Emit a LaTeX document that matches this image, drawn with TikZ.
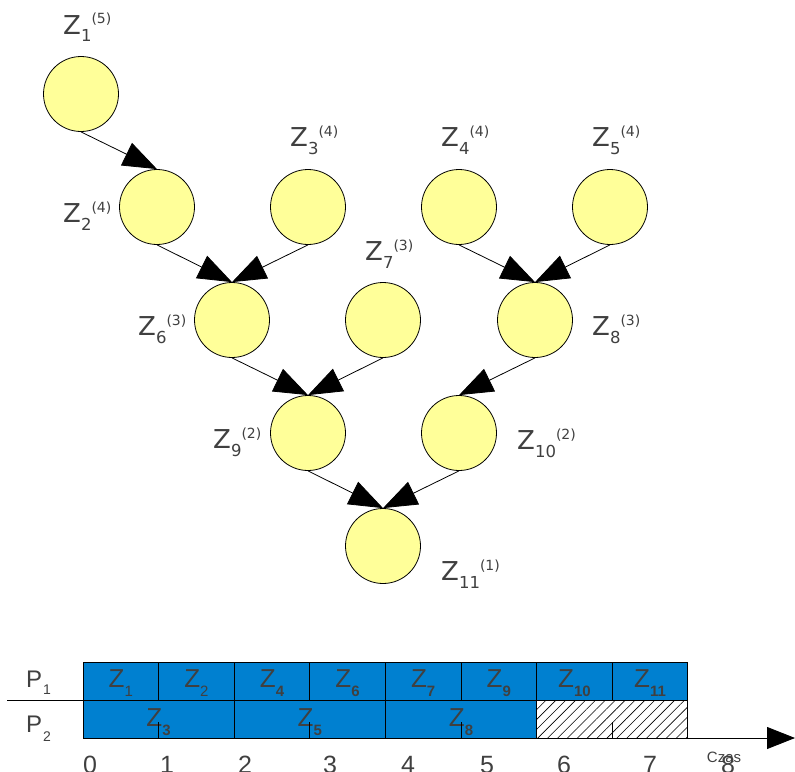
\documentclass[tikz,border=0pt]{standalone}
\usepackage{fontspec}
\setmainfont{DejaVu Sans}
\newfontfamily\ganttfont{Liberation Sans}
\usepackage{tikz}
\usetikzlibrary{arrows.meta, patterns.meta}
\usepackage{xcolor}
\definecolor{nodeyellow}{RGB}{255, 255, 153}
\definecolor{barblue}{RGB}{0, 128, 208}
\definecolor{labelgray}{RGB}{64, 64, 64}

% task label: Z, subscript, then the level in brackets
\newcommand{\zlab}[2]{Z\raisebox{-8pt}{\fontsize{16.5}{16.5}\selectfont #1}\raisebox{10pt}{\fontsize{14}{14}\selectfont (#2)}}
% task label inside a bar of the chart
\newcommand{\zbar}[2]{Z\raisebox{-9pt}{\fontsize{15}{15}\selectfont #1#2}}

\begin{document}
\begin{tikzpicture}[x=1pt, y=-1pt, >=Stealth,
  task/.style={circle, draw, line width=0.8pt, fill=nodeyellow, minimum size=75pt, inner sep=0pt},
  dep/.style={-{Triangle[length=34pt, width=25pt]}, line width=0.8pt},
  zlabel/.style={anchor=base west, inner sep=0pt, text=labelgray, font=\fontsize{26}{26}\selectfont},
  barlabel/.style={anchor=base, inner sep=0pt, text=labelgray, font=\ganttfont\fontsize{26}{26}\selectfont},
  ticklabel/.style={anchor=base, inner sep=0pt, text=labelgray, font=\ganttfont\fontsize{25}{25}\selectfont},
  cell/.style={draw, line width=0.8pt, fill=barblue}]

  \useasboundingbox (0, 0) rectangle (795, 771);

  % --- Task graph ---
  \node[task] (z1) at (81, 94) {};
  \node[task] (z2) at (157, 207) {};
  \node[task] (z3) at (308, 207) {};
  \node[task] (z4) at (459, 207) {};
  \node[task] (z5) at (610, 207) {};
  \node[task] (z6) at (232, 320) {};
  \node[task] (z7) at (383, 320) {};
  \node[task] (z8) at (535, 320) {};
  \node[task] (z9) at (308, 433) {};
  \node[task] (z10) at (459, 433) {};
  \node[task] (z11) at (383, 546) {};

  % Labels
  \node[zlabel] (l1) at (63, 34) {\zlab{1}{5}};
  \node[zlabel] (l2) at (63, 222) {\zlab{2}{4}};
  \node[zlabel] (l3) at (290, 146) {\zlab{3}{4}};
  \node[zlabel] (l4) at (441, 146) {\zlab{4}{4}};
  \node[zlabel] (l5) at (592, 146) {\zlab{5}{4}};
  \node[zlabel] (l6) at (138, 335) {\zlab{6}{3}};
  \node[zlabel] (l7) at (365, 260) {\zlab{7}{3}};
  \node[zlabel] (l8) at (592, 335) {\zlab{8}{3}};
  \node[zlabel] (l9) at (213, 448) {\zlab{9}{2}};
  \node[zlabel] (l10) at (517, 449) {\zlab{10}{2}};
  \node[zlabel] (l11) at (441, 580) {\zlab{11}{1}};

  % Dependencies
  \draw[dep] (z1.south) -- (z2.north);
  \draw[dep] (z2.south) -- (z6.north);
  \draw[dep] (z3.south) -- (z6.north);
  \draw[dep] (z4.south) -- (z8.north);
  \draw[dep] (z5.south) -- (z8.north);
  \draw[dep] (z6.south) -- (z9.north);
  \draw[dep] (z7.south) -- (z9.north);
  \draw[dep] (z8.south) -- (z10.north);
  \draw[dep] (z9.south) -- (z11.north);
  \draw[dep] (z10.south) -- (z11.north);

  % --- Schedule on two processors ---
  % P1 row
  \foreach \s/\w [count=\i from 0] in {1/\mdseries, 2/\mdseries, 4/\bfseries, 6/\bfseries,
      7/\bfseries, 9/\bfseries, 10/\bfseries, 11/\bfseries} {
    \draw[cell] ({83+75.6*\i}, 662) rectangle ++(75.6, 38);
    \node[barlabel] (b\s) at ({83+75.6*(\i+0.5)}, 687) {\zbar{\w}{\s}};
  }

  % P2 row
  \foreach \s [count=\i from 0] in {3, 5, 8} {
    \draw[cell] ({83+151.2*\i}, 700) rectangle ++(151.2, 38);
    \node[barlabel] (b\s) at ({83+151.2*(\i+0.5)}, 726) {\zbar{\bfseries}{\s}};
  }

  % idle time of P2
  \draw[line width=0.8pt, fill=white] (536.6, 700) rectangle (687.8, 738);
  \pattern[pattern={Lines[angle=45, distance=7pt, line width=0.6pt]}] (536.6, 700) rectangle (687.8, 738);
  \draw[line width=0.8pt] (536.6, 700) rectangle (687.8, 738);

  % small ticks
  \foreach \i in {1, 3, 5, 7}
    \draw[line width=0.8pt] ({83+75.6*\i}, 722) -- ({83+75.6*\i}, 738);

  % processor names
  \draw[line width=0.8pt] (7, 700) -- (83, 700);
  \node[anchor=base west, inner sep=0pt, text=labelgray, font=\ganttfont\fontsize{24}{24}\selectfont]
    (p1) at (26, 687) {P\hspace{1pt}\raisebox{-7pt}{\fontsize{14}{14}\selectfont 1}};
  \node[anchor=base west, inner sep=0pt, text=labelgray, font=\ganttfont\fontsize{24}{24}\selectfont]
    (p2) at (26, 732) {P\hspace{1pt}\raisebox{-9pt}{\fontsize{14}{14}\selectfont 2}};

  % Time axis
  \coordinate (ax0) at (83, 738);
  \coordinate (ax1) at (795, 738);
  \draw[line width=0.8pt, -{Triangle[length=28pt, width=22pt]}] (ax0) -- (ax1);
  \foreach \n/\x in {0/90, 1/167, 2/245, 3/330, 4/408, 5/487, 6/564, 7/650, 8/728}
    \node[ticklabel] (t\n) at (\x, 773) {\n};
  \node[text=labelgray, inner sep=0pt, font=\ganttfont\fontsize{15}{15}\selectfont] (czas) at (724, 757) {Czas};

\end{tikzpicture}
\end{document}
